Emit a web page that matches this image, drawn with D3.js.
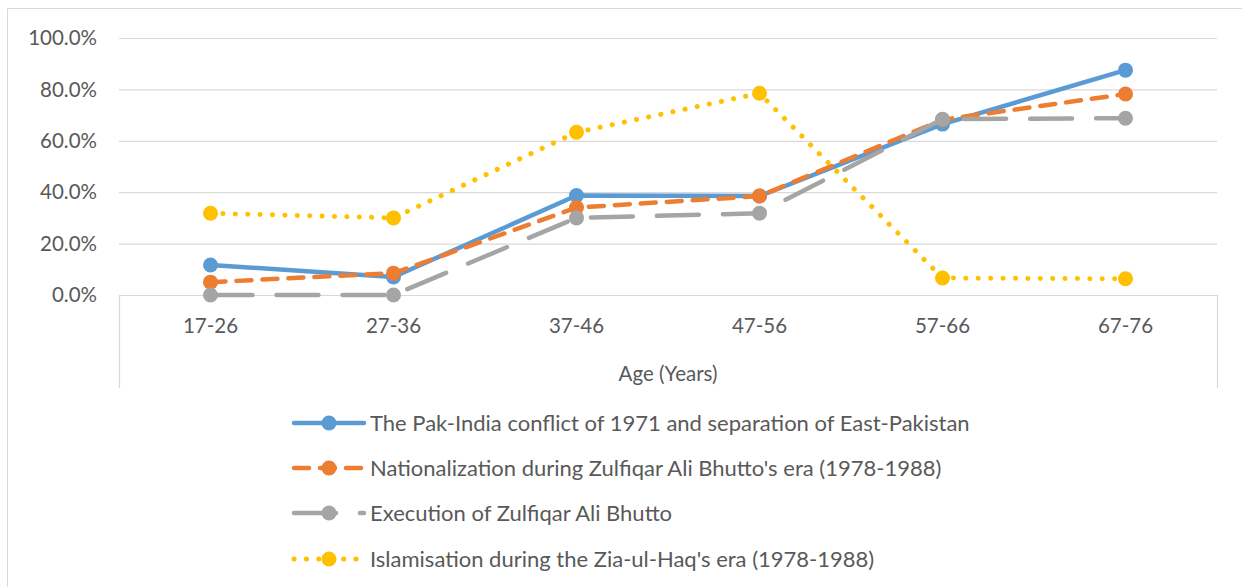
<!DOCTYPE html>
<html>
<head>
<meta charset="utf-8">
<script src="https://cdn.jsdelivr.net/npm/d3@7"></script>
<style>
  body { margin: 0; background: #fff; }
  text { font-family: Lato, "Open Sans", sans-serif; fill: #595959; }
</style>
</head>
<body>
<script>
// data
var ageGroups = ['17-26', '27-36', '37-46', '47-56', '57-66', '67-76'];
var pakIndia = [11.7, 7.0, 38.7, 38.5, 66.5, 87.5];
var nationalization = [5.0, 8.5, 34.0, 38.5, 68.2, 78.2];
var execution = [0, 0, 30.0, 31.8, 68.4, 68.8];
var islamisation = [31.8, 30.0, 63.3, 78.5, 6.6, 6.3];
var yTicks = [0, 20, 40, 60, 80, 100];

var seriesNames = [
  'The Pak-India conflict of 1971 and separation of East-Pakistan',
  "Nationalization during Zulfiqar Ali Bhutto's era (1978-1988)",
  'Execution of Zulfiqar Ali Bhutto',
  "Islamisation during the Zia-ul-Haq's era (1978-1988)"
];
var seriesValues = [pakIndia, nationalization, execution, islamisation];
var seriesColors = ['#5b9bd5', '#ed7d31', '#a5a5a5', '#ffc000'];
var seriesDash = [null, '15,11', '42,24', '0.1,12.3'];
var seriesWidth = [4.5, 4.5, 4.5, 5];

var width = 1242, height = 587;
var plotLeft = 119, plotRight = 1217, plotTop = 38, plotBottom = 295;
var axisFont = '20.5px';

var svg = d3.select('body').append('svg')
  .attr('width', width)
  .attr('height', height);

// outer chart border (only top and left fall inside the picture)
svg.append('path')
  .attr('d', 'M7.5,587 V8.5 H1242')
  .attr('fill', 'none')
  .attr('stroke', '#d9d9d9')
  .attr('stroke-width', 1);

var x = d3.scalePoint()
  .domain(ageGroups)
  .range([plotLeft, plotRight])
  .padding(0.5);

var y = d3.scaleLinear()
  .domain([0, 100])
  .range([plotBottom, plotTop]);

// gridlines
svg.append('g')
  .selectAll('line')
  .data(yTicks.slice(1))
  .enter().append('line')
  .attr('x1', plotLeft)
  .attr('x2', plotRight)
  .attr('y1', function(d) { return y(d) + 0.5; })
  .attr('y2', function(d) { return y(d) + 0.5; })
  .attr('stroke', '#d9d9d9')
  .attr('stroke-width', 1.2);

// y labels
svg.append('g')
  .selectAll('text')
  .data(yTicks)
  .enter().append('text')
  .attr('x', 97)
  .attr('y', function(d) { return y(d); })
  .attr('dy', '0.35em')
  .attr('text-anchor', 'end')
  .style('font-size', axisFont)
  .text(function(d) { return d.toFixed(1) + '%'; });

// category axis box
svg.append('path')
  .attr('d', 'M' + (plotLeft + 0.5) + ',388 V' + (plotBottom + 0.5) + ' H' + (plotRight + 0.5) + ' V388')
  .attr('fill', 'none')
  .attr('stroke', '#d9d9d9')
  .attr('stroke-width', 1.2);

svg.append('g')
  .selectAll('text')
  .data(ageGroups)
  .enter().append('text')
  .attr('x', function(d) { return x(d); })
  .attr('y', 326)
  .attr('dy', '0.35em')
  .attr('text-anchor', 'middle')
  .style('font-size', axisFont)
  .text(function(d) { return d; });

svg.append('text')
  .attr('x', (plotLeft + plotRight) / 2)
  .attr('y', 374)
  .attr('dy', '0.35em')
  .attr('text-anchor', 'middle')
  .style('font-size', axisFont)
  .text('Age (Years)');

// lines and markers
var line = d3.line()
  .x(function(d, i) { return x(ageGroups[i]); })
  .y(function(d) { return y(d); });

seriesValues.forEach(function(vals, s) {
  var g = svg.append('g');
  g.append('path')
    .attr('d', line(vals))
    .attr('fill', 'none')
    .attr('stroke', seriesColors[s])
    .attr('stroke-width', seriesWidth[s])
    .attr('stroke-linecap', 'round')
    .attr('stroke-linejoin', 'round')
    .attr('stroke-dasharray', seriesDash[s]);
  g.selectAll('circle')
    .data(vals)
    .enter().append('circle')
    .attr('cx', function(d, i) { return x(ageGroups[i]); })
    .attr('cy', function(d) { return y(d); })
    .attr('r', 7.5)
    .attr('fill', seriesColors[s]);
});

// legend
var legendY = [423, 468, 513, 559];
var legend = svg.append('g')
  .selectAll('g')
  .data(seriesNames)
  .enter().append('g')
  .attr('transform', function(d, i) { return 'translate(0,' + legendY[i] + ')'; });

legend.append('line')
  .attr('x1', 294)
  .attr('x2', 364)
  .attr('stroke', function(d, i) { return seriesColors[i]; })
  .attr('stroke-width', function(d, i) { return seriesWidth[i]; })
  .attr('stroke-linecap', 'round')
  .attr('stroke-dasharray', function(d, i) { return seriesDash[i]; });

legend.append('circle')
  .attr('cx', 329)
  .attr('r', 7.5)
  .attr('fill', function(d, i) { return seriesColors[i]; });

legend.append('text')
  .attr('x', 370)
  .attr('dy', '0.35em')
  .style('font-size', '22px')
  .text(function(d) { return d; });
</script>
</body>
</html>
